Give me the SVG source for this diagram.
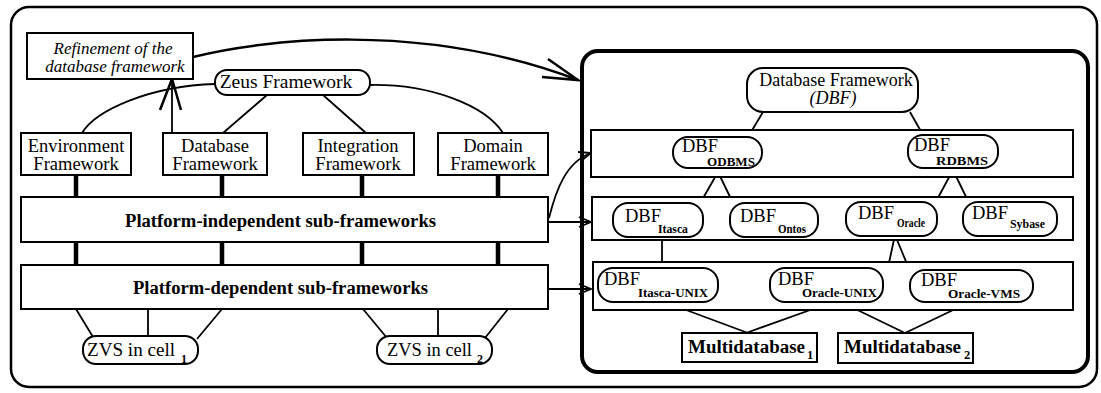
<svg xmlns="http://www.w3.org/2000/svg" width="1101" height="393" viewBox="0 0 1101 393" font-family="'Liberation Serif', 'DejaVu Serif', 'Times New Roman', serif">
<style>
  .bx{fill:#fff;stroke:#000;stroke-width:2}
  .pl{fill:#fff;stroke:#000;stroke-width:2}
  text{font-family:'Liberation Serif','DejaVu Serif','Times New Roman',serif;fill:#000}
  .t{font-size:18.5px}
  .t17{font-size:18px}
  .ri{font-size:17px;font-style:italic;text-anchor:middle}
  .c{text-anchor:middle}
  .i{font-style:italic}
  .b{font-weight:bold}
  .dbf{font-size:18.5px}
  .sub{font-size:12px;font-weight:bold}
  .sub11{font-size:12.5px;font-weight:bold}
  .ln{fill:none;stroke:#000;stroke-width:1.8}
  .thk{fill:none;stroke:#000;stroke-width:4.5}
  .ar{fill:none;stroke:#000;stroke-width:2.5}
</style>
<rect x="0" y="0" width="1101" height="393" fill="#fff"/>
<rect x="11" y="7" width="1086" height="380" rx="18" fill="none" stroke="#000" stroke-width="2.5"/>
<rect x="582" y="51" width="506" height="321" rx="16" fill="none" stroke="#000" stroke-width="4"/>

<g id="connectors">
  <path class="ln" d="M215,84 C150,86 96,110 82,133"/>
  <path class="ln" d="M370,85 C430,84 485,105 503,133"/>
  <path class="ln" d="M267,95 L223,133"/>
  <path class="ln" d="M323,95 L366,133"/>
  <path class="thk" d="M76,175 V198 M222,175 V198 M362,175 V198 M498,175 V198"/>
  <path class="thk" d="M76,242 V265 M222,242 V265 M362,242 V265 M498,242 V265"/>
  <path class="ln" d="M76,309 L93,337 M148,309 V336 M222,309 L197,339"/>
  <path class="ln" d="M363,309 L387,338 M438,309 V336 M508,309 L485,338"/>
  <path class="ln" d="M172,133 V80"/>
  <path class="ar" d="M160,110 L172,79 L181,110"/>
  <path class="ar" d="M193,57 C260,40 420,20 578,80"/>
  <path class="ar" d="M548,59 L578,80 L542,77"/>
  <path class="ln" d="M548,222 H591"/>
  <path class="ln" d="M579,217 L591,222 L579,227"/>
  <path class="ln" d="M548,289 H591"/>
  <path class="ln" d="M579,284 L591,289 L579,294"/>
  <path class="ln" d="M549,218 C556,190 566,162 591,153"/>
  <path class="ln" d="M578,152 L591,153 L581,161"/>
  <path class="ln" d="M763,112 L748,137 M910,112 L923,135"/>
  <path class="ln" d="M718,172 L698,207 M718,172 L733,203"/>
  <path class="ln" d="M953,170 L933,207 M953,170 L970,205"/>
  <path class="ln" d="M662,237 V270"/>
  <path class="ln" d="M895,235 L887,272 M895,235 L912,276"/>
  <path class="ln" d="M670,304 L748,333 M827,304 L746,333 M845,304 L905,333 M970,302 L905,333"/>
</g>

<g id="refinement">
  <rect class="bx" x="27" y="33" width="166" height="46"/>
  <text class="ri" x="113" y="54">Refinement of the</text>
  <text class="ri" x="115" y="72">database framework</text>
</g>
<g id="zeus">
  <rect class="pl" x="215" y="70" width="155" height="25" rx="12"/>
  <text class="c" x="286" y="88" font-size="19.5">Zeus Framework</text>
</g>
<g id="env">
  <rect class="bx" x="21" y="133" width="110" height="42"/>
  <text class="t c" x="76" y="152">Environment</text>
  <text class="t c" x="76" y="170">Framework</text>
</g>
<g id="dbfw">
  <rect class="bx" x="163" y="133" width="104" height="42"/>
  <text class="t c" x="215" y="152">Database</text>
  <text class="t c" x="215" y="170">Framework</text>
</g>
<g id="intfw">
  <rect class="bx" x="303" y="133" width="111" height="42"/>
  <text class="t c" x="358" y="152">Integration</text>
  <text class="t c" x="358" y="170">Framework</text>
</g>
<g id="domfw">
  <rect class="bx" x="438" y="133" width="110" height="42"/>
  <text class="t c" x="493" y="152">Domain</text>
  <text class="t c" x="493" y="170">Framework</text>
</g>
<g id="pind">
  <rect class="bx" x="21" y="197" width="527" height="45"/>
  <text class="t17 b" x="125" y="227" textLength="311" lengthAdjust="spacingAndGlyphs">Platform-independent sub-frameworks</text>
</g>
<g id="pdep">
  <rect class="bx" x="21" y="265" width="527" height="44"/>
  <text class="t17 b" x="133" y="294" textLength="295" lengthAdjust="spacingAndGlyphs">Platform-dependent sub-frameworks</text>
</g>
<g id="zvs1">
  <rect class="pl" x="83" y="336" width="115" height="28" rx="13"/>
  <text x="87" y="356" font-size="19" textLength="88" lengthAdjust="spacingAndGlyphs">ZVS in cell</text>
  <text class="sub" x="181" y="363">1</text>
</g>
<g id="zvs2">
  <rect class="pl" x="377" y="336" width="115" height="28" rx="13"/>
  <text x="387" y="356" font-size="19" textLength="85" lengthAdjust="spacingAndGlyphs">ZVS in cell</text>
  <text class="sub" x="477" y="363">2</text>
</g>

<g id="dbfmain">
  <rect class="pl" x="747" y="68" width="171" height="44" rx="16"/>
  <text class="t17 c" x="836" y="86">Database Framework</text>
  <text class="t17 c i" x="833" y="104">(DBF)</text>
</g>
<g id="row1"><rect class="bx" x="591" y="130" width="482" height="47"/></g>
<g id="row2"><rect class="bx" x="592" y="197" width="481" height="43"/></g>
<g id="row3"><rect class="bx" x="593" y="262" width="480" height="48"/></g>

<g id="odbms">
  <rect class="pl" x="673" y="137" width="89" height="31" rx="15"/>
  <text class="dbf" x="682" y="152">DBF</text>
  <text class="sub11" x="707" y="166" textLength="48" lengthAdjust="spacingAndGlyphs">ODBMS</text>
</g>
<g id="rdbms">
  <rect class="pl" x="908" y="135" width="90" height="33" rx="15"/>
  <text class="dbf" x="914" y="151">DBF</text>
  <text class="sub11" x="936" y="165" textLength="52" lengthAdjust="spacingAndGlyphs">RDBMS</text>
</g>
<g id="itasca">
  <rect class="pl" x="613" y="203" width="90" height="34" rx="15"/>
  <text class="dbf" x="625" y="222">DBF</text>
  <text class="sub" x="658" y="233" textLength="30" lengthAdjust="spacingAndGlyphs">Itasca</text>
</g>
<g id="ontos">
  <rect class="pl" x="730" y="203" width="88" height="34" rx="15"/>
  <text class="dbf" x="740" y="222">DBF</text>
  <text class="sub" x="778" y="233" textLength="28" lengthAdjust="spacingAndGlyphs">Ontos</text>
</g>
<g id="oracle">
  <rect class="pl" x="846" y="202" width="91" height="34" rx="15"/>
  <text class="dbf" x="858" y="219">DBF</text>
  <text class="sub" x="897" y="227" textLength="28" lengthAdjust="spacingAndGlyphs">Oracle</text>
</g>
<g id="sybase">
  <rect class="pl" x="963" y="202" width="94" height="34" rx="15"/>
  <text class="dbf" x="972" y="219">DBF</text>
  <text class="sub" x="1010" y="228" textLength="35" lengthAdjust="spacingAndGlyphs">Sybase</text>
</g>
<g id="itascaunix">
  <rect class="pl" x="598" y="268" width="120" height="34" rx="15"/>
  <text class="dbf" x="604" y="285">DBF</text>
  <text class="sub" x="638" y="297" textLength="70" lengthAdjust="spacingAndGlyphs">Itasca-UNIX</text>
</g>
<g id="oracleunix">
  <rect class="pl" x="770" y="268" width="113" height="34" rx="15"/>
  <text class="dbf" x="778" y="285">DBF</text>
  <text class="sub" x="802" y="297" textLength="75" lengthAdjust="spacingAndGlyphs">Oracle-UNIX</text>
</g>
<g id="oraclevms">
  <rect class="pl" x="910" y="270" width="123" height="32" rx="15"/>
  <text class="dbf" x="921" y="286">DBF</text>
  <text class="sub" x="948" y="298" textLength="72" lengthAdjust="spacingAndGlyphs">Oracle-VMS</text>
</g>
<g id="multidb1">
  <rect class="bx" x="682" y="333" width="135" height="29"/>
  <text class="t17 b" x="688" y="353" textLength="117" lengthAdjust="spacingAndGlyphs">Multidatabase</text>
  <text class="sub11" x="807" y="359">1</text>
</g>
<g id="multidb2">
  <rect class="bx" x="838" y="333" width="135" height="30"/>
  <text class="t17 b" x="844" y="353" textLength="117" lengthAdjust="spacingAndGlyphs">Multidatabase</text>
  <text class="sub11" x="964" y="359">2</text>
</g>
</svg>
